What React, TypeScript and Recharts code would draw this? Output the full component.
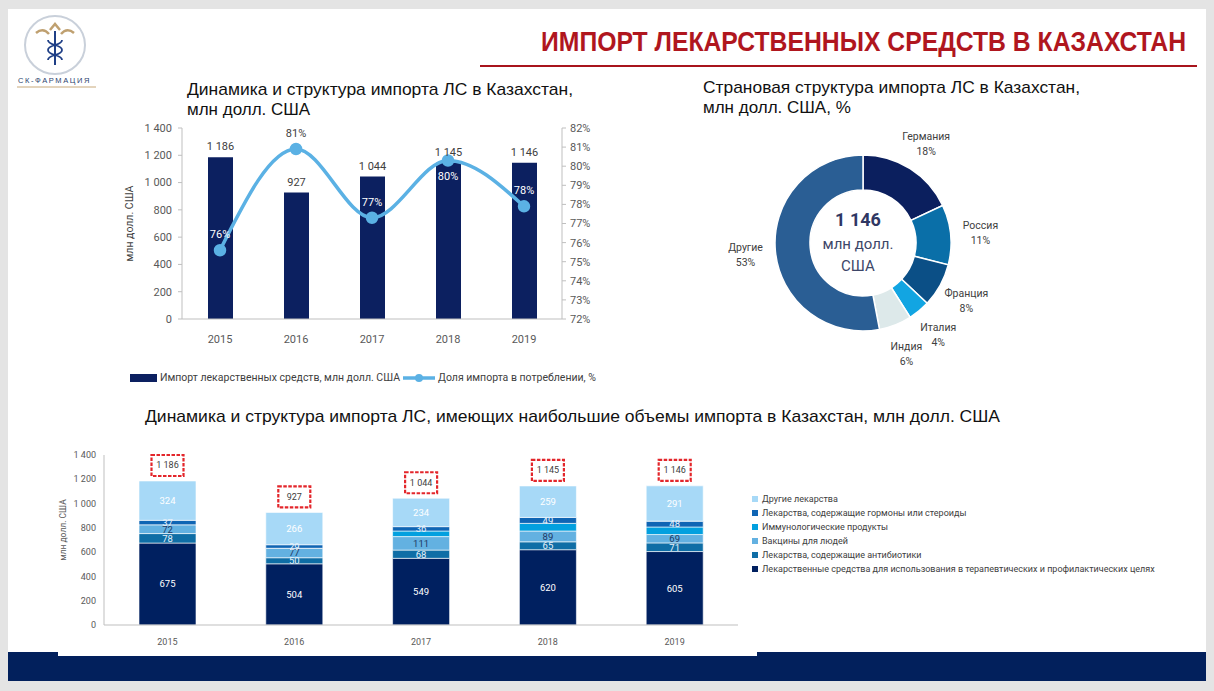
import React from 'react'
import {
  ComposedChart, BarChart, PieChart, Pie, Cell, Bar, Line, XAxis, YAxis,
  Legend, LabelList, Label,
} from 'recharts'

// --- data ---
const years = ['2015', '2016', '2017', '2018', '2019']
const importTotals = [1186, 927, 1044, 1145, 1146]
const importShare = [75.6, 80.9, 77.3, 80.3, 77.9]
const leftTicks = [0, 200, 400, 600, 800, 1000, 1200, 1400]
const rightTicks = [72, 73, 74, 75, 76, 77, 78, 79, 80, 81, 82]

const countries = ['Германия', 'Россия', 'Франция', 'Италия', 'Индия', 'Другие']
const countryShare = [18, 11, 8, 4, 6, 53]
const countryColors = ['#0b1f5e', '#0a6fa8', '#0b4f86', '#12a5e2', '#dde9ea', '#2a5e94']

const therapeutic = [675, 504, 549, 620, 605]
const antibiotics = [78, 50, 68, 65, 71]
const vaccines = [72, 77, 111, 89, 69]
const immuno = [0, 1, 46, 63, 62]
const hormones = [37, 29, 36, 49, 48]
const others = [324, 266, 234, 259, 291]
const legendOrder = ['others', 'hormones', 'immuno', 'vaccines', 'antibiotics', 'therapeutic']

const navy = '#0c2060'
const lineBlue = '#5bb1e4'
const font = "'Liberation Sans', Arial, sans-serif"
const narrow = "'Liberation Sans Narrow', Roboto, sans-serif"
const PIE_CX = 168
const PIE_CY = 118

const fmt = (v: any) => String(v).replace(/\B(?=(\d{3})+(?!\d))/g, ' ')

const importRows = years.map((year, i) => ({ year, amount: importTotals[i], share: importShare[i] }))
const countryRows = countries.map((name, i) => ({ name, value: countryShare[i] }))
const groupRows = years.map((year, i) => ({
  year,
  therapeutic: therapeutic[i],
  antibiotics: antibiotics[i],
  vaccines: vaccines[i],
  immuno: immuno[i],
  hormones: hormones[i],
  others: others[i],
  total: importTotals[i],
}))

const RADIAN = Math.PI / 180

const AmountLabel = (props: any) => {
  const { x, y, width, value } = props
  return (
    <text x={x + width / 2} y={y - 7} textAnchor="middle" fontSize={11} fontFamily={narrow} fill="#404040">
      {fmt(value)}
    </text>
  )
}

const ShareLabel = (props: any) => {
  const { x, y, value, index } = props
  const pctNorm = (value - 72) / 10
  const barNorm = importTotals[index] / 1400
  const below = Math.abs(pctNorm + 0.08 - (barNorm + 0.05)) < 0.08
  const labelNorm = below ? pctNorm - 0.1 : pctNorm + 0.08
  const onBar = labelNorm < barNorm
  return (
    <text x={x} y={below ? y + 20 : y - 12} textAnchor="middle" fontSize={11}
      fontFamily={narrow} fill={onBar ? '#ffffff' : '#404040'}>
      {Math.round(value)}%
    </text>
  )
}

const CountryLabel = (props: any) => {
  const { cx, cy, midAngle, outerRadius, name, value } = props
  const r = outerRadius + 30
  const x = cx + r * Math.cos(-midAngle * RADIAN)
  const y = cy + r * Math.sin(-midAngle * RADIAN)
  return (
    <text x={x} y={y} textAnchor="middle" fill="#404040" fontSize={10.5} fontFamily={narrow}>
      <tspan x={x} dy={-3}>{name}</tspan>
      <tspan x={x} dy={15}>{value}%</tspan>
    </text>
  )
}

const TotalBox = (props: any) => {
  const { x, y, width, value } = props
  const cx = x + width / 2
  const bw = 32
  const bh = 21
  const top = y - bh - 5
  return (
    <g>
      <rect x={cx - bw / 2} y={top} width={bw} height={bh} fill="#fff" stroke="#e3262b"
        strokeWidth={2.2} strokeDasharray="3.5 1.5" />
      <text x={cx} y={top + bh / 2 + 3} textAnchor="middle" fontSize={9} fontFamily={narrow} fill="#404040">
        {fmt(value)}
      </text>
    </g>
  )
}

function ImportChart() {
  return (
    <ComposedChart width={480} height={275} data={importRows} margin={{ top: 10, right: 0, bottom: 44, left: 0 }}>
      <XAxis dataKey="year" height={30} axisLine={{ stroke: '#bfbfbf' }} tickLine={false} tickMargin={10}
        tick={{ fill: '#595959', fontSize: 11, fontFamily: narrow }} />
      <YAxis yAxisId="left" width={62} domain={[0, 1400]} ticks={leftTicks} tickFormatter={fmt}
        axisLine={{ stroke: '#bfbfbf' }} tickLine={{ stroke: '#bfbfbf' }} tickSize={4} tickMargin={6}
        tick={{ fill: '#595959', fontSize: 11, fontFamily: narrow }}>
        <Label content={({ viewBox }: any) => (
          <text transform={`translate(${viewBox.x + 13},${viewBox.y + viewBox.height / 2}) rotate(-90)`}
            textAnchor="middle" fontSize={10.5} fontFamily={narrow} fill="#404040">млн долл. США</text>
        )} />
      </YAxis>
      <YAxis yAxisId="right" orientation="right" width={38} domain={[72, 82]} ticks={rightTicks}
        tickFormatter={(v: any) => `${v}%`} axisLine={{ stroke: '#bfbfbf' }} tickLine={{ stroke: '#bfbfbf' }}
        tickSize={4} tickMargin={4} tick={{ fill: '#595959', fontSize: 11, fontFamily: narrow }} />
      <Bar yAxisId="left" dataKey="amount" name="Импорт лекарственных средств, млн долл. США" fill={navy}
        barSize={25} isAnimationActive={false}>
        <LabelList dataKey="amount" content={AmountLabel} />
      </Bar>
      <Line yAxisId="right" type="monotone" dataKey="share" name="Доля импорта в потреблении, %" stroke={lineBlue}
        strokeWidth={3.5} dot={{ r: 4.5, fill: lineBlue, stroke: lineBlue }} isAnimationActive={false}>
        <LabelList dataKey="share" content={ShareLabel} />
      </Line>
      <Legend layout="horizontal" verticalAlign="middle" align="center"
        wrapperStyle={{ left: 10, top: 253, width: 480 }}
        content={() => (
          <div style={{ display: 'flex', alignItems: 'center', fontSize: 10.5, color: '#404040', fontFamily: narrow, whiteSpace: 'nowrap' }}>
            <span style={{ display: 'inline-block', width: 27, height: 8, background: navy, marginRight: 3 }} />
            Импорт лекарственных средств, млн долл. США
            <svg width={32} height={10} style={{ margin: '0 3px' }}>
              <line x1={0} y1={5} x2={32} y2={5} stroke={lineBlue} strokeWidth={3.5} />
              <circle cx={16} cy={5} r={4} fill={lineBlue} />
            </svg>
            Доля импорта в потреблении, %
          </div>
        )} />
    </ComposedChart>
  )
}

function CountryChart() {
  return (
    <PieChart width={340} height={260}>
      <Pie data={countryRows} dataKey="value" nameKey="name" cx={PIE_CX} cy={PIE_CY} innerRadius={53} outerRadius={88}
        startAngle={90} endAngle={-270} stroke="#ffffff" strokeWidth={1.5} label={CountryLabel} labelLine={false}
        isAnimationActive={false}>
        {countryRows.map((row, i) => <Cell key={row.name} fill={countryColors[i]} />)}
        <Label position="center" content={() => (
          <g fontFamily={narrow} textAnchor="middle">
            <text x={PIE_CX} y={PIE_CY - 12} fontSize={18} fontWeight="bold" fill="#2f3763">
              {fmt(importTotals[importTotals.length - 1])}
            </text>
            <text x={PIE_CX} y={PIE_CY + 11} fontSize={15} fill="#3d4668">млн долл.</text>
            <text x={PIE_CX} y={PIE_CY + 33} fontSize={15} fill="#3d4668">США</text>
          </g>
        )} />
      </Pie>
    </PieChart>
  )
}

const segLabel = { fontSize: 9.5, fontFamily: narrow }

function GroupChart() {
  return (
    <BarChart width={1140} height={215} data={groupRows} margin={{ top: 15, right: 460, bottom: 8, left: 0 }}>
      <XAxis dataKey="year" height={22} axisLine={{ stroke: '#bfbfbf' }} tickLine={false} tickMargin={8}
        tick={{ fill: '#595959', fontSize: 9, fontFamily: narrow }} />
      <YAxis width={46} domain={[0, 1400]} ticks={leftTicks} tickFormatter={fmt} axisLine={{ stroke: '#bfbfbf' }}
        tickLine={false} tickSize={0} tickMargin={8} tick={{ fill: '#595959', fontSize: 9, fontFamily: narrow }}>
        <Label content={({ viewBox }: any) => (
          <text transform={`translate(${viewBox.x + 8},${viewBox.y + viewBox.height / 2 - 10}) rotate(-90)`}
            textAnchor="middle" fontSize={8.5} fontFamily={narrow} fill="#595959">млн долл. США</text>
        )} />
      </YAxis>
      <Bar dataKey="therapeutic" stackId="a" barSize={57} fill="#002060" stroke="#ffffff" strokeWidth={0.6}
        name="Лекарственные средства для использования в терапевтических и профилактических целях" isAnimationActive={false}>
        <LabelList dataKey="therapeutic" position="center" fill="#ffffff" {...segLabel} />
      </Bar>
      <Bar dataKey="antibiotics" stackId="a" fill="#0f6ea6" stroke="#ffffff" strokeWidth={0.6}
        name="Лекарства, содержащие антибиотики" isAnimationActive={false}>
        <LabelList dataKey="antibiotics" position="center" fill="#e6f1fa" {...segLabel} />
      </Bar>
      <Bar dataKey="vaccines" stackId="a" fill="#63b1e1" stroke="#ffffff" strokeWidth={0.6}
        name="Вакцины для людей" isAnimationActive={false}>
        <LabelList dataKey="vaccines" position="center" fill="#1f3864" {...segLabel} />
      </Bar>
      <Bar dataKey="immuno" stackId="a" fill="#02a0df" stroke="#ffffff" strokeWidth={0.6}
        name="Иммунологические продукты" isAnimationActive={false} />
      <Bar dataKey="hormones" stackId="a" fill="#0f65b4" stroke="#ffffff" strokeWidth={0.6}
        name="Лекарства, содержащие гормоны или стероиды" isAnimationActive={false}>
        <LabelList dataKey="hormones" position="center" fill="#e6f1fa" {...segLabel} />
      </Bar>
      <Bar dataKey="others" stackId="a" fill="#a7d9f7" stroke="#ffffff" strokeWidth={0.6}
        name="Другие лекарства" isAnimationActive={false}>
        <LabelList dataKey="others" position="center" fill="#ffffff" {...segLabel} />
        <LabelList dataKey="total" content={TotalBox} />
      </Bar>
      <Legend layout="horizontal" verticalAlign="middle" align="center"
        wrapperStyle={{ left: 694, top: 52, width: 446 }}
        content={({ payload }: any) => (
          <div style={{ fontFamily: narrow, fontSize: 9, color: '#404040' }}>
            {[...(payload || [])]
              .sort((a: any, b: any) => legendOrder.indexOf(a.dataKey) - legendOrder.indexOf(b.dataKey))
              .map((p: any) => (
                <div key={p.value} style={{ display: 'flex', alignItems: 'center', height: 14, whiteSpace: 'nowrap' }}>
                  <span style={{ display: 'inline-block', width: 6, height: 6, background: p.color, marginRight: 4 }} />
                  {p.value}
                </div>
              ))}
          </div>
        )} />
    </BarChart>
  )
}

export default function App() {
  return (
    <div style={{ position: 'absolute', left: 0, top: 0, width: 1214, height: 691, background: '#e4e4e4', overflow: 'hidden', fontFamily: font }}>
      <div style={{ position: 'absolute', left: 8, top: 9, width: 1198, height: 672, background: '#ffffff' }} />
      <div style={{ position: 'absolute', left: 8, top: 652, width: 1198, height: 29, background: '#02205c' }} />
      <div style={{ position: 'absolute', left: 58, top: 640, width: 699, height: 16, background: '#ffffff' }} />
      <svg width={1214} height={691} style={{ position: 'absolute', left: 0, top: 0 }}>
        <ellipse cx={55} cy={45} rx={30} ry={29} fill="#fff" stroke="#c9d0da" strokeWidth={2} />
        <path d="M36 33 Q43 27 49 34 M74 33 Q67 27 61 34 M50 30 L55 24 L60 30" fill="none" stroke="#bfa070" strokeWidth={2.5} />
        <line x1={55} y1={31} x2={55} y2={65} stroke="#1f3f86" strokeWidth={2} />
        <path d="M48 40 C48 46 62 44 62 50 C62 56 48 54 48 60 M62 40 C62 46 48 44 48 50 C48 56 62 54 62 60"
          fill="none" stroke="#1f3f86" strokeWidth={1.8} />
        <text x={18} y={83} fontSize={7.5} letterSpacing={1.6} fill="#2d3f6e">СК-ФАРМАЦИЯ</text>
        <line x1={17} y1={87} x2={96} y2={87} stroke="#c8a97a" strokeWidth={1} />
        <text x={541} y={51} fontSize={28} fontWeight="bold" fill="#b0161e" textLength={645}
          lengthAdjust="spacingAndGlyphs">ИМПОРТ ЛЕКАРСТВЕННЫХ СРЕДСТВ В КАЗАХСТАН</text>
        <rect x={480} y={65} width={717} height={2} fill="#a8141c" />
        <text x={187} y={95} fontSize={17} fill="#111" textLength={386} lengthAdjust="spacingAndGlyphs">
          Динамика и структура импорта ЛС в Казахстан,</text>
        <text x={187} y={115} fontSize={17} fill="#111">млн долл. США</text>
        <text x={703} y={93} fontSize={17} fill="#111" textLength={377} lengthAdjust="spacingAndGlyphs">
          Страновая структура импорта ЛС в Казахстан,</text>
        <text x={703} y={113} fontSize={17} fill="#111">млн долл. США, %</text>
        <text x={145} y={422} fontSize={17} fill="#111" textLength={855} lengthAdjust="spacingAndGlyphs">
          Динамика и структура импорта ЛС, имеющих наибольшие объемы импорта в Казахстан, млн долл. США</text>
      </svg>
      <div style={{ position: 'absolute', left: 120, top: 118 }}><ImportChart /></div>
      <div style={{ position: 'absolute', left: 690, top: 120 }}><CountryChart /></div>
      <div style={{ position: 'absolute', left: 58, top: 440 }}><GroupChart /></div>
    </div>
  )
}
